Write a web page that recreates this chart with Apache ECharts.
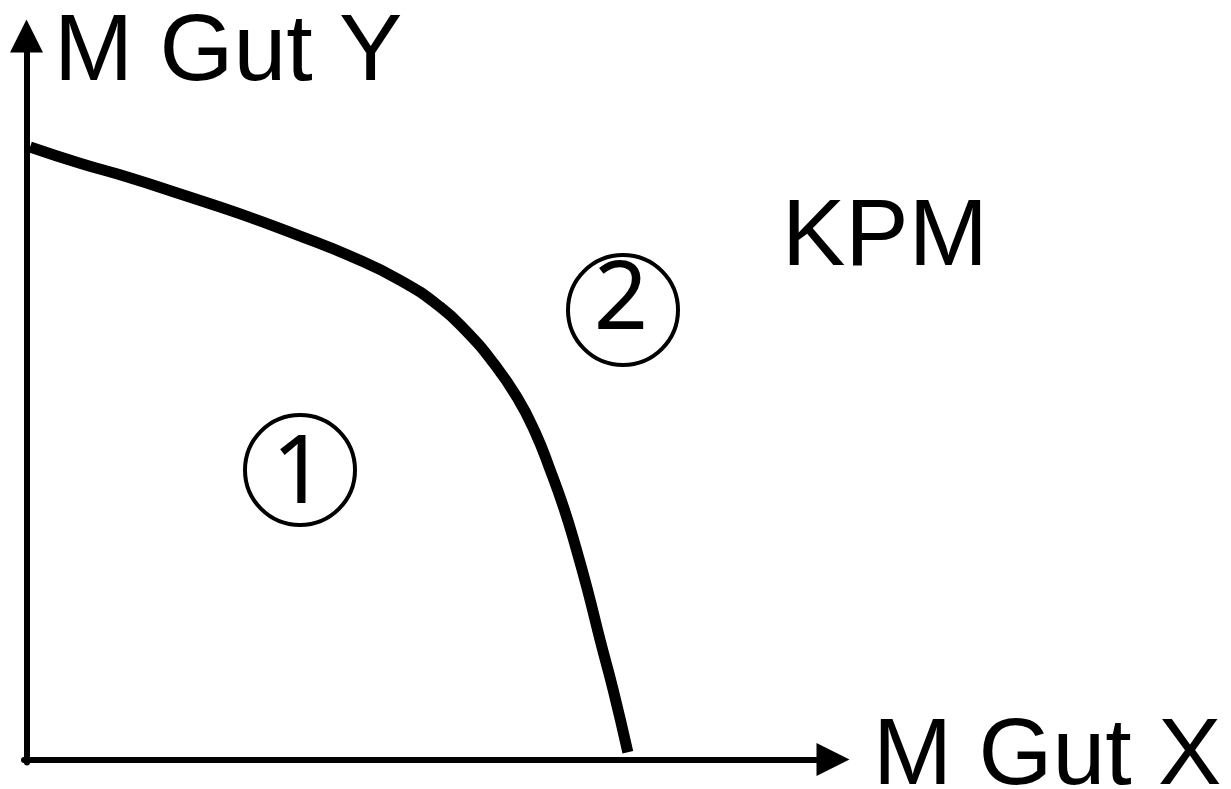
<!DOCTYPE html>
<html>
<head>
<meta charset="utf-8">
<title>KPM</title>
<script src="https://cdn.jsdelivr.net/npm/echarts@6/dist/echarts.min.js"></script>
<style>
    html, body { margin: 0; padding: 0; background: #fff; }
    #main { width: 1231px; height: 789px; }
</style>
</head>
<body>
<div id="main"></div>
<script>
// Kurve der Produktionsmöglichkeiten
let kpmX = [0.7, 10.6, 20.5, 30.5, 42.4, 54.3, 64.2, 74.1, 82.0, 87.4, 92.6, 97.3, 100.9, 103.9, 106.6, 109.0, 111.4, 113.8, 116.4, 119.3];
let kpmY = [101.6, 98.9, 96.5, 93.8, 90.5, 86.8, 83.5, 79.5, 75.1, 70.9, 65.8, 60.1, 54.3, 48.0, 41.7, 35.1, 27.8, 19.8, 11.5, 1.2];
// Beschriftungen
let axisNames = ['M Gut X', 'M Gut Y'];
let curveName = 'KPM';
let areaNames = ['1', '2'];

let font = '"Liberation Sans", Arial, sans-serif';
let digitFont = '"Noto Sans", Arial, sans-serif';

function label(text, x, y, align, family) {
    return {
        type: 'text',
        x: x,
        y: y,
        style: {
            text: text,
            fontSize: 95,
            fontFamily: family || font,
            fill: '#000',
            align: align || 'left',
            verticalAlign: 'middle'
        }
    };
}

function ring(cx, cy) {
    return {
        type: 'circle',
        shape: { cx: cx, cy: cy, r: 55 },
        style: { fill: 'none', stroke: '#000', lineWidth: 4 }
    };
}

let myChart = echarts.init(document.getElementById('main'));
let option = {
    animation: false,
    backgroundColor: '#fff',
    grid: {
        left: 24,
        top: 36,
        width: 809,
        height: 726.5,
        outerBoundsMode: 'none',
        containLabel: false
    },
    xAxis: {
        type: 'value',
        min: -0.5,
        max: 160,
        splitLine: { show: false },
        axisTick: { show: false },
        axisLabel: { show: false },
        axisLine: {
            onZero: true,
            symbol: ['none', 'triangle'],
            symbolSize: [33, 33],
            lineStyle: { color: '#000', width: 6 }
        }
    },
    yAxis: {
        type: 'value',
        min: -0.5,
        max: 120,
        splitLine: { show: false },
        axisTick: { show: false },
        axisLabel: { show: false },
        axisLine: {
            onZero: true,
            symbol: ['none', 'triangle'],
            symbolSize: [33, 33],
            lineStyle: { color: '#000', width: 6 }
        }
    },
    series: [{
        name: curveName,
        type: 'line',
        smooth: 0.5,
        showSymbol: false,
        symbol: 'none',
        lineStyle: { color: '#000', width: 11, cap: 'butt' },
        data: kpmX.map((x, i) => [x, kpmY[i]])
    }],
    graphic: [
        label(axisNames[1], 54, 54),
        label(axisNames[0], 873, 758),
        label(curveName, 782, 239),
        ring(300, 470),
        label(areaNames[0], 299, 476, 'center', digitFont),
        ring(623, 310),
        label(areaNames[1], 621, 302, 'center', digitFont)
    ]
};
myChart.setOption(option);
</script>
</body>
</html>
